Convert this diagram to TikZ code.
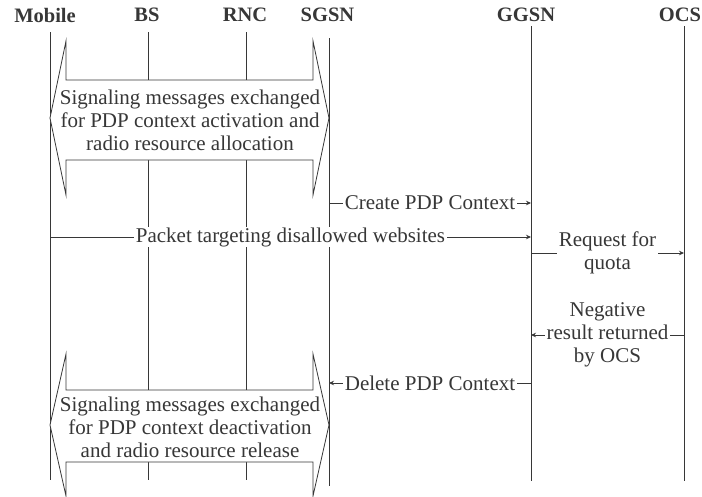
\documentclass[tikz,border=0pt]{standalone}
\usepackage{fontspec}
\setmainfont{Liberation Serif}
\usetikzlibrary{arrows.meta}
\definecolor{seqgray}{RGB}{55,55,55}

\begin{document}
\begin{tikzpicture}[x=1pt,y=-1pt,>=Stealth,
  every node/.style={text=seqgray,font=\fontsize{21}{23}\selectfont},
  head/.style={font=\fontsize{20.5}{23}\selectfont\bfseries},
  life/.style={seqgray,line width=0.8pt},
  msg/.style={seqgray,line width=0.8pt,-{Stealth[length=5pt,width=4.5pt]}},
  lbl/.style={fill=white,inner xsep=2pt,inner ysep=0pt,align=center},
  band/.style={seqgray,line width=0.8pt,fill=white}]
  \useasboundingbox (0,0) rectangle (702,496);
  % entities
  \node[head] (mob)  at (45,15)    {Mobile};
  \node[head] (bs)   at (147,15)   {BS};
  \node[head] (rnc)  at (245,15)   {RNC};
  \node[head] (sgsn) at (327.5,15) {SGSN};
  \node[head] (ggsn) at (526,15)   {GGSN};
  \node[head] (ocs)  at (680,15)   {OCS};
  \coordinate (mobT)  at (50,32);  \coordinate (mobB)  at (50,480);
  \coordinate (bsT)   at (148,32); \coordinate (bsB)   at (148,480);
  \coordinate (rncT)  at (246,32); \coordinate (rncB)  at (246,480);
  \coordinate (sgsnT) at (329,38); \coordinate (sgsnB) at (329,486);
  \coordinate (ggsnT) at (531,26); \coordinate (ggsnB) at (531,481);
  \coordinate (ocsT)  at (684,26); \coordinate (ocsB)  at (684,481);
  \draw[life] (mobT) -- (mobB);
  \draw[life] (bsT) -- (bsB);
  \draw[life] (rncT) -- (rncB);
  \draw[life] (sgsnT) -- (sgsnB);
  \draw[life] (ggsnT) -- (ggsnB);
  \draw[life] (ocsT) -- (ocsB);
  % signaling bands
  \draw[band] (50,118) -- (66,41) -- (66,80) -- (313,80) -- (313,41) -- (329,118)
    -- (313,195) -- (313,160) -- (66,160) -- (66,195) -- cycle;
  \node[align=center] (act) at (190,120)
    {Signaling messages exchanged\\for PDP context activation and\\radio resource allocation};
  \draw[band] (50,425) -- (66,354) -- (66,390) -- (313,390) -- (313,354) -- (329,425)
    -- (313,496) -- (313,462) -- (66,462) -- (66,496) -- cycle;
  \node[align=center] (deact) at (190,427)
    {Signaling messages exchanged\\for PDP context deactivation\\and radio resource release};
  % messages
  \draw[msg] (sgsnT |- 0,203) -- node[lbl] (create) {Create PDP Context} (ggsnT |- 0,203);
  \draw[msg] (mobT |- 0,237) -- node[lbl] (packet) {Packet targeting disallowed websites} (ggsnT |- 0,237);
  \draw[msg] (ggsnT |- 0,253) -- node[lbl] (quota) {Request for\\quota} (ocsT |- 0,253);
  \draw[msg] (ocsT |- 0,335) -- node[lbl] (neg) {Negative\\result returned\\by OCS} (ggsnT |- 0,335);
  \draw[msg] (ggsnT |- 0,383) -- node[lbl] (delete) {Delete PDP Context} (sgsnT |- 0,383);
\end{tikzpicture}
\end{document}
